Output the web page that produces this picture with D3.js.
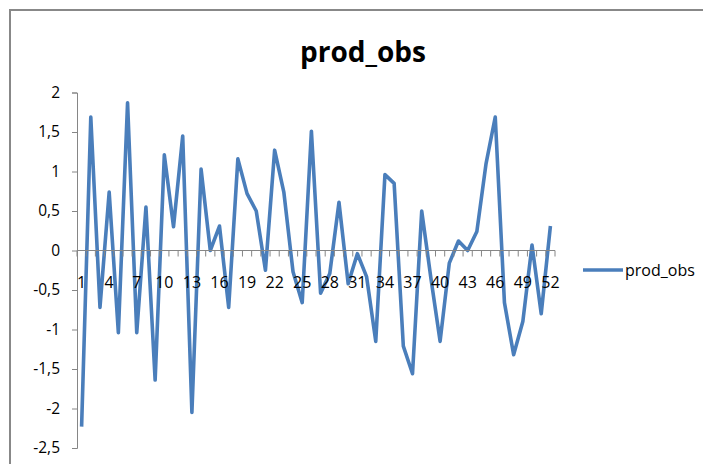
<!DOCTYPE html>
<html>
<head>
<meta charset="utf-8">
<script src="https://cdn.jsdelivr.net/npm/d3@7"></script>
<style>
  body { margin: 0; background: #fff; }
  text { font-family: "Open Sans", "Noto Sans", sans-serif; fill: #000; }
</style>
</head>
<body>
<div id="chart"></div>
<script>
// values
var seriesName = "prod_obs";
var values = [-2.23, 1.69, -0.72, 0.74, -1.04, 1.87, -1.04, 0.55, -1.64, 1.21,
  0.30, 1.45, -2.05, 1.03, 0.00, 0.31, -0.72, 1.16, 0.72, 0.50,
  -0.25, 1.27, 0.74, -0.27, -0.66, 1.51, -0.54, -0.29, 0.61, -0.42,
  -0.04, -0.33, -1.15, 0.96, 0.85, -1.21, -1.56, 0.50, -0.35, -1.15,
  -0.16, 0.12, 0.00, 0.24, 1.10, 1.69, -0.66, -1.32, -0.90, 0.07,
  -0.80, 0.31];
var categories = values.map(function (d, i) { return i + 1; });
var yTicks = [-2.5, -2, -1.5, -1, -0.5, 0, 0.5, 1, 1.5, 2];

var width = 703,
  height = 464;

var svg = d3.select('#chart')
  .append('svg')
  .attr('width', width)
  .attr('height', height)

// chart frame
svg.append('path')
  .attr('d', 'M10,' + (height + 5) + 'V10H' + (width + 5))
  .attr('fill', 'none')
  .attr('stroke', '#888')
  .attr('stroke-width', 2)

var plotLeft = 77, plotRight = 555;

var x = d3.scaleBand()
  .domain(categories)
  .range([plotLeft, plotRight])

var y = d3.scaleLinear()
  .domain([-2.5, 2])
  .range([448, 92.5])

var fmt = function (d) { return String(d).replace('.', ','); };

// y axis
var yAxis = svg.append('g')
  .attr('transform', 'translate(' + plotLeft + ',0)')
  .call(d3.axisLeft(y).tickValues(yTicks).tickSize(5).tickPadding(12).tickFormat(fmt))
yAxis.select('.domain').attr('stroke', '#868686')
yAxis.selectAll('.tick line').attr('stroke', '#868686')
yAxis.selectAll('.tick text')
  .style('font-size', '15.5px')
  .attr('fill', '#000')

// series line
var line = d3.line()
  .x(function (d, i) { return x(categories[i]) + x.bandwidth() / 2; })
  .y(function (d) { return y(d); })

svg.append('path')
  .datum(values)
  .attr('d', line)
  .attr('fill', 'none')
  .attr('stroke', '#4a7ebb')
  .attr('stroke-width', 3.6)
  .attr('stroke-linejoin', 'round')

// x axis on the zero line, ticks between categories
var xAxis = svg.append('g')
  .attr('transform', 'translate(0,' + y(0) + ')')
xAxis.append('line')
  .attr('x1', plotLeft).attr('x2', plotRight)
  .attr('stroke', '#868686')
xAxis.selectAll('.tk')
  .data(d3.range(categories.length + 1))
  .join('line')
  .attr('class', 'tk')
  .attr('x1', function (i) { return plotLeft + i * x.step(); })
  .attr('x2', function (i) { return plotLeft + i * x.step(); })
  .attr('y1', 0).attr('y2', 6)
  .attr('stroke', '#868686')
xAxis.selectAll('.lbl')
  .data(categories.filter(function (d) { return (d - 1) % 3 == 0; }))
  .join('text')
  .attr('class', 'lbl')
  .attr('x', function (d) { return x(d) + x.bandwidth() / 2; })
  .attr('y', 37.5)
  .attr('text-anchor', 'middle')
  .style('font-size', '16px')
  .text(function (d) { return d; })

// title
svg.append('text')
  .attr('x', 363)
  .attr('y', 62)
  .attr('text-anchor', 'middle')
  .style('font-size', '28px')
  .style('font-weight', 'bold')
  .text(seriesName)

// legend
var legend = svg.append('g')
  .attr('transform', 'translate(583,270)')
legend.append('line')
  .attr('x1', 0).attr('x2', 40)
  .attr('stroke', '#4a7ebb')
  .attr('stroke-width', 3.6)
legend.append('text')
  .attr('x', 42)
  .attr('y', 6)
  .style('font-size', '16px')
  .text(seriesName)
</script>
</body>
</html>
